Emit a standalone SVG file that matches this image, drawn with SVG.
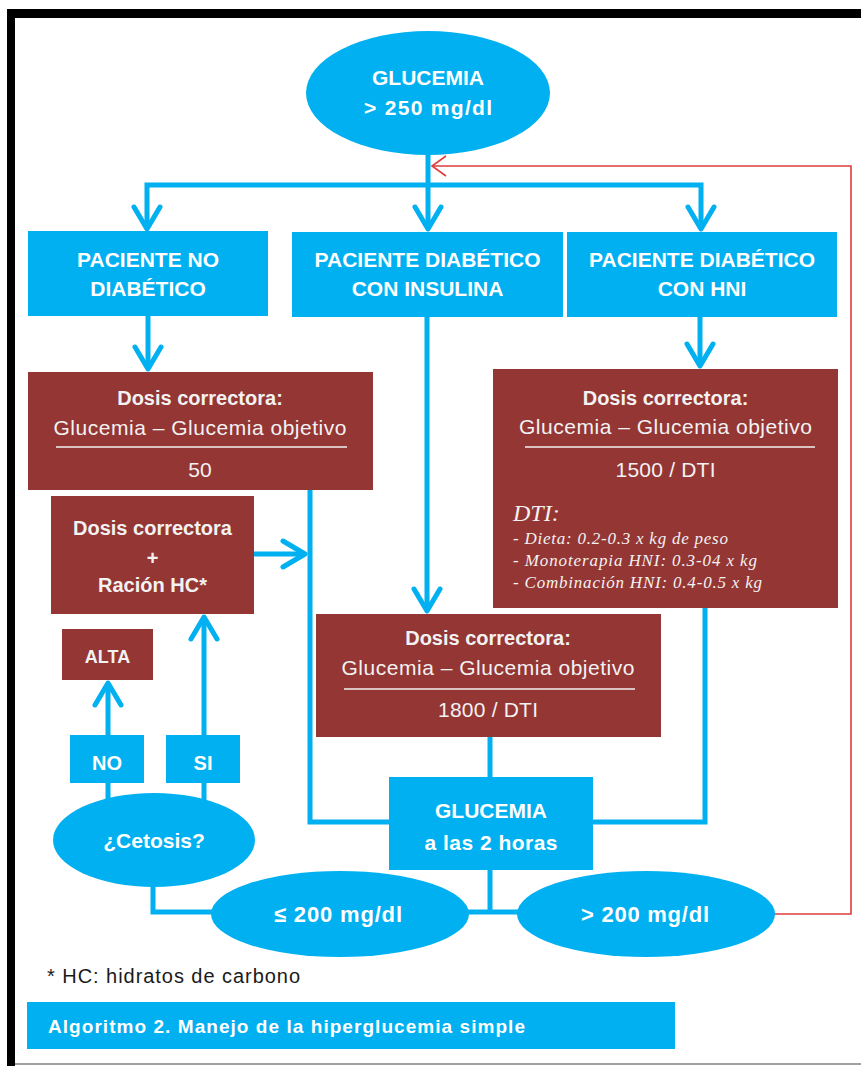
<svg xmlns="http://www.w3.org/2000/svg" width="861" height="1066" viewBox="0 0 861 1066">
<defs>
<style>
.b{fill:#00B0F0}
.r{fill:#943634}
.t{font-family:"Liberation Sans",Arial,sans-serif;font-weight:bold;fill:#FFFFFF;text-anchor:middle}
.tb{font-family:"Liberation Sans",Arial,sans-serif;font-weight:bold;fill:#F2F2F2;text-anchor:middle}
.tr{font-family:"Liberation Sans",Arial,sans-serif;fill:#F2F2F2;text-anchor:middle}
.i{font-family:"Liberation Serif","Times New Roman",serif;font-style:italic;fill:#F2F2F2}
.c{fill:none;stroke:#00B0F0;stroke-width:5}
.red{fill:none;stroke:#E03C3C;stroke-width:1.6}
.fr{fill:none;stroke:#F2F2F2;stroke-width:1.5}
</style>
<marker id="ab" markerUnits="userSpaceOnUse" markerWidth="60" markerHeight="60" viewBox="-30 -30 60 60" refX="0" refY="0" orient="auto-start-reverse">
<path d="M-22,-13 L0,0 L-22,13" fill="none" stroke="#00B0F0" stroke-width="5" stroke-linecap="round" stroke-linejoin="round"/>
</marker>
<marker id="ar" markerUnits="userSpaceOnUse" markerWidth="40" markerHeight="40" viewBox="-20 -20 40 40" refX="0" refY="0" orient="auto">
<path d="M-14,-10 L0,0 L-14,10" fill="none" stroke="#E03C3C" stroke-width="1.6"/>
</marker>
</defs>
<rect x="0" y="0" width="861" height="1066" fill="#FFFFFF"/>
<g id="frame">
<rect x="7" y="9" width="854" height="9" fill="#000000"/>
<rect x="7" y="9" width="8" height="1057" fill="#000000"/>
<rect x="15" y="1063" width="846" height="2" fill="#A0A0A0"/>
</g>
<g id="connectors">
<path class="c" d="M428,150 V229" marker-end="url(#ab)"/>
<path class="c" d="M147,229 V185 H701 V229" marker-start="url(#ab)" marker-end="url(#ab)"/>
<path class="c" d="M148,316 V369" marker-end="url(#ab)"/>
<path class="c" d="M700,317 V366" marker-end="url(#ab)"/>
<path class="c" d="M427,317 V611" marker-end="url(#ab)"/>
<path class="c" d="M310,490 V822 H390"/>
<path class="c" d="M254,554 H305" marker-end="url(#ab)"/>
<path class="c" d="M705,608 V822 H592"/>
<path class="c" d="M490,737 V778"/>
<path class="c" d="M490,869 V912"/>
<path class="c" d="M466,912 H520"/>
<path class="c" d="M214,912 H153 V884"/>
<path class="c" d="M108,802 V782"/>
<path class="c" d="M204,802 V782"/>
<path class="c" d="M108,736 V683" marker-end="url(#ab)"/>
<path class="c" d="M204,736 V617" marker-end="url(#ab)"/>
<path class="red" d="M774,914 H851 V166 H432" marker-end="url(#ar)"/>
</g>
<g id="n-glucemia250">
<ellipse class="b" cx="428" cy="93" rx="122" ry="62"/>
<text class="t" x="428" y="85" font-size="21">GLUCEMIA</text>
<text class="t" x="428" y="115" font-size="21" textLength="128">&gt; 250 mg/dl</text>
</g>
<g id="n-nodiab">
<rect class="b" x="28" y="231" width="240" height="85"/>
<text class="t" x="148" y="267" font-size="21">PACIENTE NO</text>
<text class="t" x="148" y="296" font-size="21">DIABÉTICO</text>
</g>
<g id="n-insulina">
<rect class="b" x="292" y="232" width="271" height="85"/>
<text class="t" x="427.5" y="267" font-size="21">PACIENTE DIABÉTICO</text>
<text class="t" x="427.5" y="296" font-size="21">CON INSULINA</text>
</g>
<g id="n-hni">
<rect class="b" x="567" y="232" width="270" height="85"/>
<text class="t" x="702" y="267" font-size="21">PACIENTE DIABÉTICO</text>
<text class="t" x="702" y="296" font-size="21">CON HNI</text>
</g>
<g id="n-dosis50">
<rect class="r" x="28" y="372" width="345" height="118"/>
<text class="tb" x="200" y="405" font-size="20">Dosis correctora:</text>
<text class="tr" x="200" y="435" font-size="21" textLength="293">Glucemia – Glucemia objetivo</text>
<line class="fr" x1="56" y1="447" x2="347" y2="447"/>
<text class="tr" x="200" y="477" font-size="21">50</text>
</g>
<g id="n-racion">
<rect class="r" x="51" y="496" width="203" height="118"/>
<text class="tb" x="152.5" y="535" font-size="20">Dosis correctora</text>
<text class="tb" x="152.5" y="565" font-size="20">+</text>
<text class="tb" x="152.5" y="592" font-size="20">Ración HC*</text>
</g>
<g id="n-dosis1500">
<rect class="r" x="493" y="369" width="345" height="239"/>
<text class="tb" x="665.5" y="405" font-size="20">Dosis correctora:</text>
<text class="tr" x="665.5" y="434" font-size="21" textLength="293">Glucemia – Glucemia objetivo</text>
<line class="fr" x1="525" y1="447" x2="815" y2="447"/>
<text class="tr" x="665.5" y="477" font-size="21" textLength="100">1500 / DTI</text>
<text class="i" x="513" y="521" font-size="24">DTI:</text>
<text class="i" x="513" y="544" font-size="17" textLength="215">- Dieta: 0.2-0.3 x kg de peso</text>
<text class="i" x="513" y="566" font-size="17" textLength="244">- Monoterapia HNI: 0.3-04 x kg</text>
<text class="i" x="513" y="588" font-size="17" textLength="249">- Combinación HNI: 0.4-0.5 x kg</text>
</g>
<g id="n-dosis1800">
<rect class="r" x="316" y="614" width="345" height="123"/>
<text class="tb" x="488" y="645" font-size="20">Dosis correctora:</text>
<text class="tr" x="488" y="675" font-size="21" textLength="293">Glucemia – Glucemia objetivo</text>
<line class="fr" x1="344" y1="689" x2="635" y2="689"/>
<text class="tr" x="488" y="717" font-size="21" textLength="100">1800 / DTI</text>
</g>
<g id="n-alta">
<rect class="r" x="62" y="629" width="91" height="51"/>
<text class="tb" x="107.5" y="663" font-size="18">ALTA</text>
</g>
<g id="n-no">
<rect class="b" x="70" y="735" width="74" height="48"/>
<text class="t" x="107" y="770" font-size="20">NO</text>
</g>
<g id="n-si">
<rect class="b" x="166" y="735" width="74" height="48"/>
<text class="t" x="203" y="770" font-size="20">SI</text>
</g>
<g id="n-cetosis">
<ellipse class="b" cx="154" cy="840" rx="101" ry="47"/>
<text class="t" x="154" y="848" font-size="21">¿Cetosis?</text>
</g>
<g id="n-glucemia2h">
<rect class="b" x="389" y="777" width="204" height="93"/>
<text class="t" x="491" y="818" font-size="21">GLUCEMIA</text>
<text class="t" x="491" y="850" font-size="21" textLength="133">a las 2 horas</text>
</g>
<g id="n-le200">
<ellipse class="b" cx="340" cy="914" rx="129" ry="43"/>
<text class="t" x="338" y="922" font-size="22" textLength="128">≤ 200 mg/dl</text>
</g>
<g id="n-gt200">
<ellipse class="b" cx="646" cy="914" rx="129" ry="43"/>
<text class="t" x="645" y="922" font-size="22" textLength="128">&gt; 200 mg/dl</text>
</g>
<g id="footnote">
<text x="47" y="983" font-family="'Liberation Sans',Arial,sans-serif" font-size="20" fill="#1A1A1A" textLength="253">* HC: hidratos de carbono</text>
</g>
<g id="caption">
<rect class="b" x="27" y="1002" width="648" height="47"/>
<text x="48" y="1033" font-family="'Liberation Sans',Arial,sans-serif" font-weight="bold" font-size="19" fill="#FFFFFF" textLength="477">Algoritmo 2. Manejo de la hiperglucemia simple</text>
</g>
</svg>
